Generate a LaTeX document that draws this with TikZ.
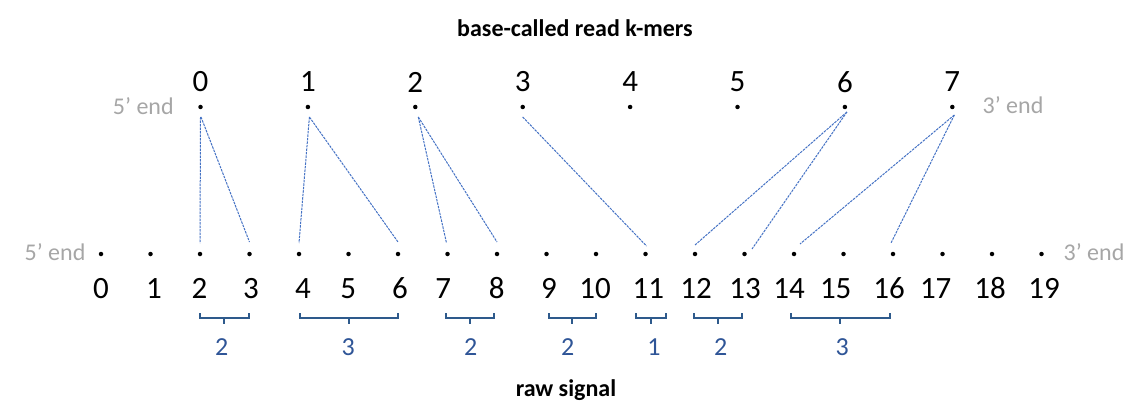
\documentclass[tikz,border=0pt]{standalone}
\usepackage{fontspec}
\setmainfont{Carlito}
\definecolor{linkblue}{HTML}{4472C4}
\definecolor{endgray}{HTML}{A6A6A6}
\definecolor{bracecol}{HTML}{2E5A8C}
\definecolor{cntblue}{HTML}{2F5597}
\begin{document}
\begin{tikzpicture}[x=1pt,y=-1pt,
  kdot/.style={circle,fill=black,inner sep=0pt,minimum size=4.5pt},
  num/.style={inner sep=0pt,font=\fontsize{31}{36}\selectfont},
  endlbl/.style={inner sep=0pt,text=endgray,font=\fontsize{24}{28}\selectfont},
  link/.style={draw=linkblue,dash pattern=on 2.5pt off 1pt,line width=1pt},
  bracket/.style={draw=bracecol,line width=2pt},
  cnt/.style={inner sep=0pt,text=cntblue,font=\fontsize{26}{30}\selectfont},
  ttl/.style={inner sep=0pt,anchor=base,font=\bfseries\fontsize{24}{28}\selectfont}]
\useasboundingbox (0,0) rectangle (1142,417);
\node[ttl] (title) at (575,36.5) {base-called read k-mers};
\node[ttl] (raw) at (566,396.5) {raw signal};
% top k-mers
\foreach \i in {0,...,7}{
  \node[kdot] (t\i) at ({200.5+107.4*\i},107) {};
  \node[num] (tn\i) at ({200.5+107.4*\i},82) {\i};
}
\node[endlbl] (t5end) at (143.3,106) {5’ end};
\node[endlbl] (t3end) at (1013,105) {3’ end};
% bottom signal
\foreach \i in {0,...,19}{
  \node[kdot] (b\i) at ({101+49.5*\i},254) {};
}
\foreach \i/\x in {0/101,1/154,2/199.5,3/251,4/303,5/348.3,6/400,7/443.3,8/496.7,9/549,10/595,11/648.3,12/696,13/745,14/789,15/835.7,16/889,17/935.7,18/990,19/1044}{
  \node[num] (bn\i) at (\x,288.5) {\i};
}
\node[endlbl] (b5end) at (55,252.5) {5’ end};
\node[endlbl] (b3end) at (1094,252) {3’ end};
% links
\draw[link] ([yshift=-10pt]t0.center) -- ([yshift=11pt]b2.center);
\draw[link] ([xshift=0.5pt,yshift=-10pt]t0.center) -- ([yshift=12pt]b3.center);
\draw[link] ([xshift=1.5pt,yshift=-10pt]t1.center) -- ([yshift=11pt]b4.center);
\draw[link] ([xshift=1.5pt,yshift=-10pt]t1.center) -- ([yshift=12pt]b6.center);
\draw[link] ([xshift=3pt,yshift=-10pt]t2.center) -- ([xshift=-1pt,yshift=11pt]b7.center);
\draw[link] ([xshift=3pt,yshift=-10pt]t2.center) -- ([yshift=12pt]b8.center);
\draw[link] ([yshift=-10pt]t3.center) -- ([xshift=1pt,yshift=8pt]b11.center);
\draw[link] ([xshift=2pt,yshift=-5pt]t6.center) -- ([yshift=9pt]b12.center);
\draw[link] ([xshift=2pt,yshift=-5pt]t6.center) -- ([xshift=7.5pt,yshift=5pt]b13.center);
\draw[link] ([xshift=2pt,yshift=-8pt]t7.center) -- ([xshift=6pt,yshift=10pt]b14.center);
\draw[link] ([xshift=2pt,yshift=-8pt]t7.center) -- ([xshift=-2pt,yshift=11pt]b16.center);
% brackets
\foreach \a/\b/\m in {200/248.5/224.2, 300/398/349, 445.7/494.3/470, 549/595.7/572.3, 635.7/666/650.8, 694/742.3/718.1, 790.7/890/840.3}{
  \draw[bracket,line cap=butt] (\a,313) -- (\a,318.3) -- (\b,318.3) -- (\b,313);
  \draw[bracket] (\m,318.3) -- (\m,324);
}
\node[cnt] (c1) at (221.7,347) {2};
\node[cnt] (c2) at (348.3,347) {3};
\node[cnt] (c3) at (470.7,347) {2};
\node[cnt] (c4) at (567.7,347) {2};
\node[cnt] (c5) at (654,347) {1};
\node[cnt] (c6) at (720.7,347) {2};
\node[cnt] (c7) at (842.3,347) {3};
\end{tikzpicture}
\end{document}
